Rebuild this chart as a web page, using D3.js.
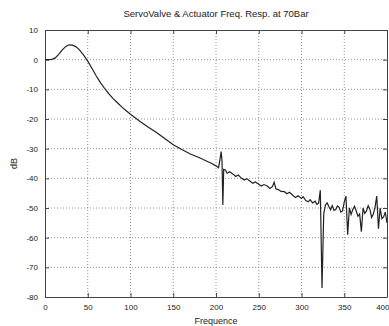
<!DOCTYPE html>
<html><head><meta charset="utf-8">
<script src="https://cdn.jsdelivr.net/npm/d3@7"></script>
<style>body{margin:0;background:#fff}svg{display:block}text{font-family:"Liberation Sans",Arial,sans-serif;fill:#222}</style>
</head><body><svg id="c" width="389" height="326"></svg>
<script>
const title = "ServoValve & Actuator Freq. Resp. at 70Bar";
const xLabel = "Frequence";
const yLabel = "dB";
const xTicks = [0, 50, 100, 150, 200, 250, 300, 350, 400];
const yTicks = [10, 0, -10, -20, -30, -40, -50, -60, -70, -80];
const freq = [0,4,8,12,16,20,24,28,32,36,40,45,50,55,60,65,70,75,80,85,90,95,100,110,120,130,140,150,160,170,180,190,195,200,203,205,206,207,208,209,211,213,216,220,223,226,230,233,236,240,243,246,250,253,256,260,263,266,268,270,273,276,280,283,286,290,293,296,300,302,305,308,310,313,316,318,320,322,324,326,328,330,332,334,336,338,340,342,344,346,348,350,352,354,356,358,360,362,364,366,368,370,372,374,376,378,380,382,384,386,388,390,392,394,396,398,400];
const magDb = [0,0,0.1,0.6,1.8,3.2,4.4,5,4.9,4.4,3.4,1.6,-0.5,-3,-5.5,-7.8,-9.8,-11.6,-13.2,-14.6,-16,-17.2,-18.4,-20.6,-22.6,-24.5,-26.6,-28.7,-30.3,-31.8,-33,-34.3,-35,-35.8,-36.4,-33,-31,-34,-49,-37,-37.2,-38.3,-37.8,-38.6,-39.4,-38.9,-40,-40.6,-40.1,-41,-41.7,-41.2,-42,-42.6,-42.1,-42.6,-43.4,-42.8,-41.3,-43.5,-43.8,-44.4,-44.5,-45.2,-44.7,-45.8,-46.5,-45.9,-46.8,-46.2,-47.5,-47.9,-47.2,-48.3,-47.7,-48.8,-48.4,-44,-77,-52,-49,-48.3,-49.5,-50.6,-49.2,-50.8,-50.5,-49.3,-49.8,-51.4,-51,-48,-46,-59,-50,-52.2,-50.5,-49.4,-51,-52.8,-52,-58,-50,-51.8,-51,-49.2,-50.5,-53.2,-52,-49.8,-46,-57,-50,-53.6,-53,-51.4,-55];

const svg = d3.select("#c");
const L = 45, R = 387, T = 30, B = 297;
const x = d3.scaleLinear().domain([0, 400]).range([L, R]);
const y = d3.scaleLinear().domain([-80, 10]).range([B, T]);

// grid
const g = svg.append("g");
g.selectAll(".gx").data(xTicks.slice(1, -1)).enter().append("line")
  .attr("x1", d => x(d)).attr("x2", d => x(d)).attr("y1", T).attr("y2", B)
  .attr("stroke", "#777").attr("stroke-width", 0.8).attr("stroke-dasharray", "1,2");
g.selectAll(".gy").data(yTicks.slice(1, -1)).enter().append("line")
  .attr("y1", d => y(d)).attr("y2", d => y(d)).attr("x1", L).attr("x2", R)
  .attr("stroke", "#777").attr("stroke-width", 0.8).attr("stroke-dasharray", "1,2");

// axes
const fmt = d => d3.format("d")(d).replace("−", "-");
const ax = svg.append("g").attr("transform", `translate(0,${B})`)
  .call(d3.axisBottom(x).tickValues(xTicks).tickSizeInner(-4).tickSizeOuter(0).tickPadding(7).tickFormat(fmt));
const axT = svg.append("g").attr("transform", `translate(0,${T})`)
  .call(d3.axisTop(x).tickValues(xTicks).tickSizeInner(-4).tickSizeOuter(0).tickFormat(""));
const ay = svg.append("g").attr("transform", `translate(${L},0)`)
  .call(d3.axisLeft(y).tickValues(yTicks).tickSizeInner(-4).tickSizeOuter(0).tickPadding(7).tickFormat(fmt));
const ayR = svg.append("g").attr("transform", `translate(${R},0)`)
  .call(d3.axisRight(y).tickValues(yTicks).tickSizeInner(-4).tickSizeOuter(0).tickFormat(""));
[ax, axT, ay, ayR].forEach(a => {
  a.selectAll("path").attr("stroke", "#444").attr("stroke-width", 1);
  a.selectAll("line").attr("stroke", "#444");
  a.selectAll("text").attr("font-size", 8).attr("fill", "#333").attr("font-family", "Liberation Sans, Arial, sans-serif");
});
ax.selectAll(".tick").filter(d => d === 400).select("text").attr("text-anchor", "end").attr("dx", 2);

// line
svg.append("path").datum(freq.map((f, i) => [f, magDb[i]]))
  .attr("fill", "none").attr("stroke", "#222").attr("stroke-width", 1.2)
  .attr("d", d3.line().x(d => x(d[0])).y(d => y(d[1])));

// texts
svg.append("text").attr("x", (L + R) / 2).attr("y", 17).attr("text-anchor", "middle")
  .attr("font-size", 9.5).text(title);
svg.append("text").attr("x", (L + R) / 2).attr("y", 324).attr("text-anchor", "middle")
  .attr("font-size", 9).text(xLabel);
svg.append("text").attr("transform", `translate(17,${(T + B) / 2}) rotate(-90)`).attr("text-anchor", "middle")
  .attr("font-size", 9).text(yLabel);
</script></body></html>
